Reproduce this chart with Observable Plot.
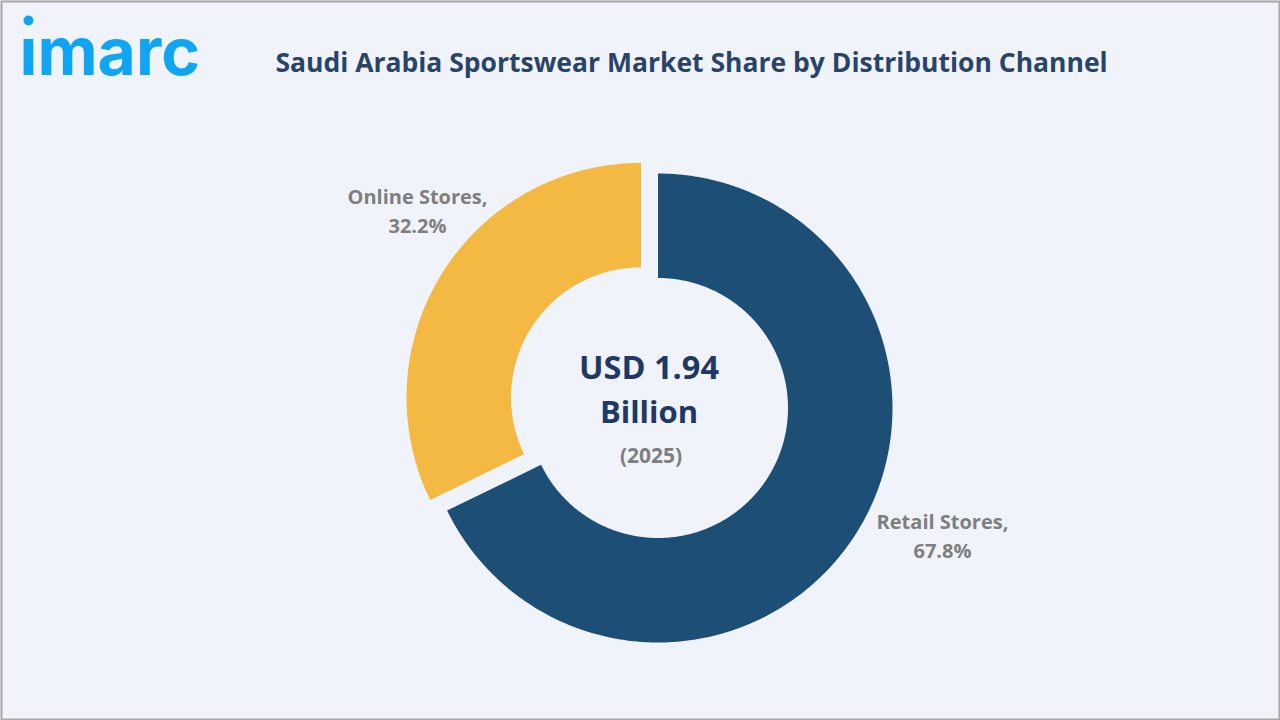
<!DOCTYPE html>
<html>
<head>
<meta charset="utf-8">
<script src="https://cdn.jsdelivr.net/npm/d3@7"></script>
<script src="https://cdn.jsdelivr.net/npm/@observablehq/plot@0.6"></script>
<style>
html,body{margin:0;padding:0;background:#f0f4fa;}
svg{display:block;}
</style>
</head>
<body>
<div id="chart"></div>
<script>
const channels = ["Retail Stores", "Online Stores"];
const shares = [67.8, 32.2];
const colors = ["#1d4e75", "#f4b942"];
const explode = [0, 20];
const title = "Saudi Arabia Sportswear Market Share by Distribution Channel";
const centerValue = "USD 1.94";
const centerUnit = "Billion";
const centerYear = "(2025)";

const cx = 657.5, cy = 407.5, rOuter = 234.5, rInner = 130;
const total = d3.sum(shares);

let start = 0;
const slicePoints = [];
channels.forEach((channel, i) => {
  const a0 = start / total * 2 * Math.PI;
  const a1 = (start + shares[i]) / total * 2 * Math.PI;
  const mid = (a0 + a1) / 2;
  const ox = cx + explode[i] * Math.sin(mid);
  const oy = cy - explode[i] * Math.cos(mid);
  const n = Math.ceil((a1 - a0) * 180 / Math.PI * 2);
  for (let k = 0; k <= n; k++) {
    const a = a0 + (a1 - a0) * k / n;
    slicePoints.push({channel, x: ox + rOuter * Math.sin(a), y: oy - rOuter * Math.cos(a)});
  }
  for (let k = n; k >= 0; k--) {
    const a = a0 + (a1 - a0) * k / n;
    slicePoints.push({channel, x: ox + rInner * Math.sin(a), y: oy - rInner * Math.cos(a)});
  }
  start += shares[i];
});

const sans = "'Open Sans','Noto Sans',sans-serif";
const labels = [
  {text: channels[1] + ",", x: 417, y: 197},
  {text: shares[1].toFixed(1) + "%", x: 417, y: 226},
  {text: channels[0] + ",", x: 942, y: 522},
  {text: shares[0].toFixed(1) + "%", x: 942, y: 551}
];

const chart = Plot.plot({
  width: 1280,
  height: 720,
  margin: 0,
  x: {domain: [0, 1280], range: [0, 1280], axis: null},
  y: {domain: [0, 720], range: [0, 720], axis: null},
  color: {domain: channels, range: colors},
  style: {background: "#f0f4fa", fontFamily: sans},
  marks: [
    Plot.line(slicePoints, {x: "x", y: "y", z: "channel", fill: "channel", stroke: "none", curve: "linear"}),
    Plot.text(["imarc"], {x: 19, y: 53, text: d => d, textAnchor: "start", fontFamily: "Inter", fontWeight: 700, fontSize: 66, fill: "#0ea5f5"}),
    Plot.dot([0], {x: () => 28, y: () => 29, r: 9, fill: "#f0f4fa", stroke: "none"}),
    Plot.dot([0], {x: () => 28, y: () => 20, r: 5, fill: "#0ea5f5", stroke: "none"}),
    Plot.text([title], {x: 691, y: 63, text: d => d, fontSize: 26.5, fontWeight: 700, fill: "#2a4468"}),
    Plot.text(labels, {x: "x", y: "y", text: "text", fontSize: 20, fontWeight: 700, fill: "#7f7f7f"}),
    Plot.text([centerValue], {x: 648.5, y: 368, text: d => d, fontSize: 32.5, fontWeight: 700, fill: "#1f3864"}),
    Plot.text([centerUnit], {x: 648.5, y: 413, text: d => d, fontSize: 31, fontWeight: 700, fill: "#1f3864"}),
    Plot.text([centerYear], {x: 650.5, y: 456, text: d => d, fontSize: 21, fontWeight: 700, fill: "#7f7f7f"}),
    Plot.frame({stroke: "#a6a6a6", strokeWidth: 2, inset: 1})
  ]
});
document.getElementById("chart").append(chart);
</script>
</body>
</html>
